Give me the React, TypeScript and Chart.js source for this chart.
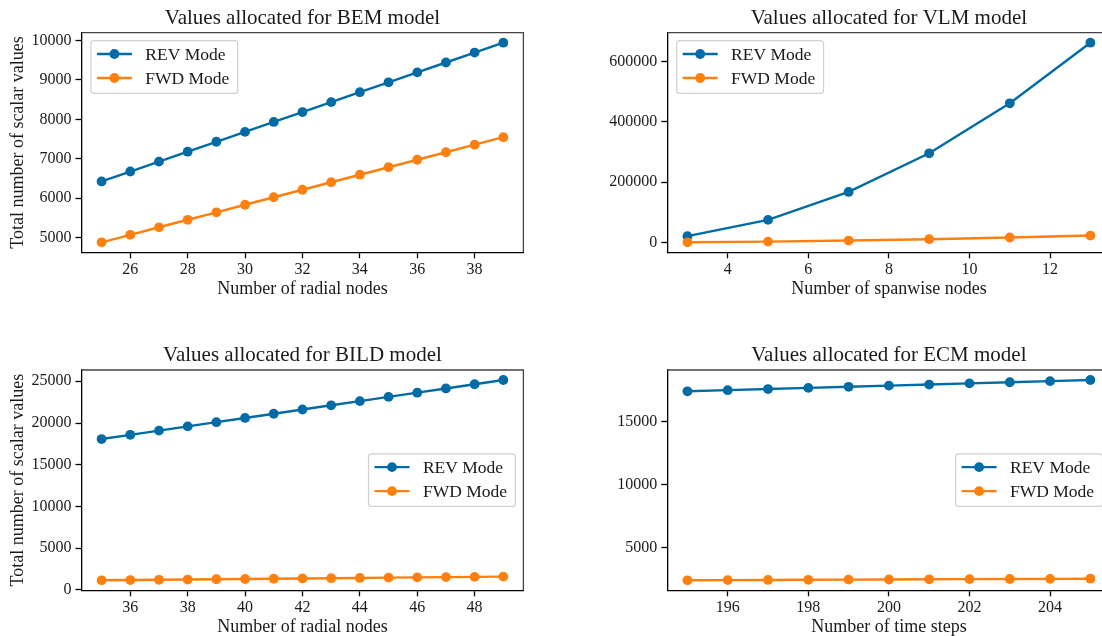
import React, { useEffect, useRef } from "react";
import { Chart, registerables } from "chart.js";

Chart.register(...registerables);

const BLUE = "#006BA4";
const ORANGE = "#FF800E";
const FONT = "'Liberation Serif', 'Times New Roman', serif";
const TEXT = "#1a1a1a";

// ---- Data ----
const bemNodes = [25, 26, 27, 28, 29, 30, 31, 32, 33, 34, 35, 36, 37, 38, 39];
const bemRev = [6426, 6677, 6928, 7180, 7431, 7682, 7933, 8184, 8435, 8687, 8938, 9189, 9440, 9691, 9942];
const bemFwd = [4883, 5073, 5264, 5454, 5644, 5835, 6025, 6215, 6405, 6596, 6786, 6976, 7166, 7357, 7547];
const bemXTicks = [26, 28, 30, 32, 34, 36, 38];
const bemYTicks = [5000, 6000, 7000, 8000, 9000, 10000];

const vlmNodes = [3, 5, 7, 9, 11, 13];
const vlmRev = [20900, 74900, 167500, 295500, 461000, 661800];
const vlmFwd = [600, 3000, 6500, 11000, 16500, 23000];
const vlmXTicks = [4, 6, 8, 10, 12];
const vlmYTicks = [0, 200000, 400000, 600000];

const bildNodes = [35, 36, 37, 38, 39, 40, 41, 42, 43, 44, 45, 46, 47, 48, 49];
const bildRev = [18080, 18585, 19090, 19595, 20100, 20605, 21110, 21615, 22120, 22625, 23130, 23635, 24140, 24645, 25150];
const bildFwd = [1160, 1190, 1220, 1250, 1285, 1315, 1345, 1380, 1410, 1440, 1475, 1505, 1540, 1570, 1600];
const bildXTicks = [36, 38, 40, 42, 44, 46, 48];
const bildYTicks = [0, 5000, 10000, 15000, 20000, 25000];

const ecmSteps = [195, 196, 197, 198, 199, 200, 201, 202, 203, 204, 205];
const ecmRev = [17450, 17540, 17630, 17720, 17810, 17900, 17990, 18080, 18170, 18260, 18350];
const ecmFwd = [2370, 2383, 2395, 2408, 2421, 2434, 2447, 2460, 2472, 2485, 2498];
const ecmXTicks = [196, 198, 200, 202, 204];
const ecmYTicks = [5000, 10000, 15000];

const seriesLabels = ["REV Mode", "FWD Mode"];

type Spec = {
  title: string;
  xTitle: string;
  yTitle?: string;
  x: number[];
  rev: number[];
  fwd: number[];
  xTicks: number[];
  yTicks: number[];
  legendLoc: "upper left" | "center right";
  left: number;
  top: number;
  width: number;
  height: number;
  yAxisWidth: number;
  padRight: number;
  titlePadTop: number;
  titlePadBottom: number;
};

function margins(vals: number[]) {
  const mn = Math.min(...vals);
  const mx = Math.max(...vals);
  const p = (mx - mn) * 0.05;
  return [mn - p, mx + p];
}

function makeLegendPlugin(loc: string) {
  return {
    id: "mplLegend",
    afterDraw(chart: any) {
      const ctx = chart.ctx as CanvasRenderingContext2D;
      const ca = chart.chartArea;
      ctx.save();
      ctx.font = `17.5px ${FONT}`;
      const items = chart.data.datasets.map((d: any) => ({ label: d.label, color: d.borderColor }));
      const textW = Math.max(...items.map((i: any) => ctx.measureText(i.label).width));
      const w = 54.4 + textW + 8.4;
      const h = 52.6;
      let x: number, y: number;
      if (loc === "upper left") {
        x = ca.left + 9.4;
        y = ca.top + 8;
      } else {
        x = ca.right - 8 - w;
        y = (ca.top + ca.bottom) / 2 - h / 2;
      }
      const r = 3;
      ctx.beginPath();
      ctx.moveTo(x + r, y);
      ctx.arcTo(x + w, y, x + w, y + h, r);
      ctx.arcTo(x + w, y + h, x, y + h, r);
      ctx.arcTo(x, y + h, x, y, r);
      ctx.arcTo(x, y, x + w, y, r);
      ctx.closePath();
      ctx.fillStyle = "rgba(255,255,255,0.8)";
      ctx.fill();
      ctx.strokeStyle = "#d0d0d0";
      ctx.lineWidth = 1.2;
      ctx.stroke();
      items.forEach((it: any, i: number) => {
        const cy = y + 13.3 + i * 24;
        ctx.strokeStyle = it.color;
        ctx.lineWidth = 2.4;
        ctx.beginPath();
        ctx.moveTo(x + 6, cy);
        ctx.lineTo(x + 41, cy);
        ctx.stroke();
        ctx.fillStyle = it.color;
        ctx.beginPath();
        ctx.arc(x + 23.5, cy, 4.9, 0, Math.PI * 2);
        ctx.fill();
        ctx.fillStyle = TEXT;
        ctx.textBaseline = "middle";
        ctx.textAlign = "left";
        ctx.fillText(it.label, x + 54.4, cy + 1);
      });
      ctx.restore();
    },
  };
}

const spinePlugin = {
  id: "spines",
  afterDatasetsDraw(chart: any) {
    const ctx = chart.ctx as CanvasRenderingContext2D;
    const ca = chart.chartArea;
    ctx.save();
    ctx.strokeStyle = "#444";
    ctx.lineWidth = 1.3;
    ctx.beginPath();
    ctx.moveTo(ca.left, ca.top);
    ctx.lineTo(ca.right, ca.top);
    ctx.lineTo(ca.right, ca.bottom);
    ctx.stroke();
    ctx.restore();
  },
};

function Panel({ spec }: { spec: Spec }) {
  const ref = useRef<HTMLCanvasElement>(null);
  useEffect(() => {
    if (!ref.current) return;
    const [xmin, xmax] = margins(spec.x);
    const [ymin, ymax] = margins([...spec.rev, ...spec.fwd]);
    const tickGrid = {
      display: true,
      drawOnChartArea: false,
      drawTicks: true,
      tickLength: 6,
      tickWidth: 1.3,
      tickColor: "#000",
    };
    const chart = new Chart(ref.current, {
      type: "line",
      data: {
        datasets: [
          {
            label: seriesLabels[0],
            data: spec.x.map((xv, i) => ({ x: xv, y: spec.rev[i] })),
            borderColor: BLUE,
            backgroundColor: BLUE,
            borderWidth: 2.4,
            pointRadius: 4.9,
            pointBorderWidth: 0,
            pointHoverRadius: 4.9,
            tension: 0,
            fill: false,
            order: 2,
          },
          {
            label: seriesLabels[1],
            data: spec.x.map((xv, i) => ({ x: xv, y: spec.fwd[i] })),
            borderColor: ORANGE,
            backgroundColor: ORANGE,
            borderWidth: 2.4,
            pointRadius: 4.9,
            pointBorderWidth: 0,
            pointHoverRadius: 4.9,
            tension: 0,
            fill: false,
            order: 1,
          },
        ],
      },
      options: {
        animation: false,
        responsive: false,
        devicePixelRatio: 1,
        events: [],
        layout: { padding: { left: 0, top: 0, bottom: 0, right: spec.padRight } },
        plugins: {
          legend: { display: false },
          tooltip: { enabled: false },
          title: {
            display: true,
            text: spec.title,
            fullSize: false,
            color: TEXT,
            font: { family: FONT, size: 21, weight: "normal" as any },
            padding: { top: spec.titlePadTop, bottom: spec.titlePadBottom },
          },
        },
        scales: {
          x: {
            type: "linear",
            min: xmin,
            max: xmax,
            afterBuildTicks: (s: any) => {
              s.ticks = spec.xTicks.map((v) => ({ value: v }));
            },
            afterFit: (s: any) => {
              s.height = 47.7;
            },
            border: { display: true, color: "#000", width: 1.3 },
            grid: tickGrid,
            ticks: {
              autoSkip: false,
              maxRotation: 0,
              padding: 2,
              color: TEXT,
              font: { family: FONT, size: 16 },
              callback: (v: any) => String(v),
            },
            title: {
              display: true,
              text: spec.xTitle,
              color: TEXT,
              font: { family: FONT, size: 18 },
              padding: { top: 0, bottom: 0 },
            },
          },
          y: {
            type: "linear",
            min: ymin,
            max: ymax,
            afterBuildTicks: (s: any) => {
              s.ticks = spec.yTicks.map((v) => ({ value: v }));
            },
            afterFit: (s: any) => {
              s.width = spec.yAxisWidth;
            },
            border: { display: true, color: "#000", width: 1.3 },
            grid: tickGrid,
            ticks: {
              autoSkip: false,
              padding: 4,
              color: TEXT,
              font: { family: FONT, size: 16 },
              callback: (v: any) => String(v),
            },
            title: {
              display: !!spec.yTitle,
              text: spec.yTitle || "",
              color: TEXT,
              font: { family: FONT, size: 18 },
              padding: { top: 7, bottom: 0 },
            },
          },
        },
      },
      plugins: [spinePlugin, makeLegendPlugin(spec.legendLoc)],
    } as any);
    return () => chart.destroy();
  }, [spec]);
  return (
    <div
      style={{
        position: "absolute",
        left: spec.left,
        top: spec.top,
        width: spec.width,
        height: spec.height,
      }}
    >
      <canvas
        ref={ref}
        width={spec.width}
        height={spec.height}
        style={{ width: spec.width, height: spec.height, display: "block" }}
      />
    </div>
  );
}

const specs: Spec[] = [
  {
    title: "Values allocated for BEM model",
    xTitle: "Number of radial nodes",
    yTitle: "Total number of scalar values",
    x: bemNodes,
    rev: bemRev,
    fwd: bemFwd,
    xTicks: bemXTicks,
    yTicks: bemYTicks,
    legendLoc: "upper left",
    left: 0,
    top: 0,
    width: 530,
    height: 300,
    yAxisWidth: 81.5,
    padRight: 6.6,
    titlePadTop: 5.7,
    titlePadBottom: 1.8,
  },
  {
    title: "Values allocated for VLM model",
    xTitle: "Number of spanwise nodes",
    x: vlmNodes,
    rev: vlmRev,
    fwd: vlmFwd,
    xTicks: vlmXTicks,
    yTicks: vlmYTicks,
    legendLoc: "upper left",
    left: 560,
    top: 0,
    width: 560,
    height: 300,
    yAxisWidth: 107.3,
    padRight: 9.5,
    titlePadTop: 5.7,
    titlePadBottom: 1.8,
  },
  {
    title: "Values allocated for BILD model",
    xTitle: "Number of radial nodes",
    yTitle: "Total number of scalar values",
    x: bildNodes,
    rev: bildRev,
    fwd: bildFwd,
    xTicks: bildXTicks,
    yTicks: bildYTicks,
    legendLoc: "center right",
    left: 0,
    top: 336,
    width: 530,
    height: 302,
    yAxisWidth: 81.5,
    padRight: 6.6,
    titlePadTop: 6.7,
    titlePadBottom: 2.1,
  },
  {
    title: "Values allocated for ECM model",
    xTitle: "Number of time steps",
    x: ecmSteps,
    rev: ecmRev,
    fwd: ecmFwd,
    xTicks: ecmXTicks,
    yTicks: ecmYTicks,
    legendLoc: "center right",
    left: 560,
    top: 336,
    width: 560,
    height: 302,
    yAxisWidth: 107.3,
    padRight: 9.5,
    titlePadTop: 6.7,
    titlePadBottom: 2.1,
  },
];

export default function App() {
  return (
    <div
      style={{
        position: "absolute",
        left: 0,
        top: 0,
        width: 1102,
        height: 636,
        overflow: "hidden",
        background: "#fff",
      }}
    >
      {specs.map((s, i) => (
        <Panel key={i} spec={s} />
      ))}
    </div>
  );
}
